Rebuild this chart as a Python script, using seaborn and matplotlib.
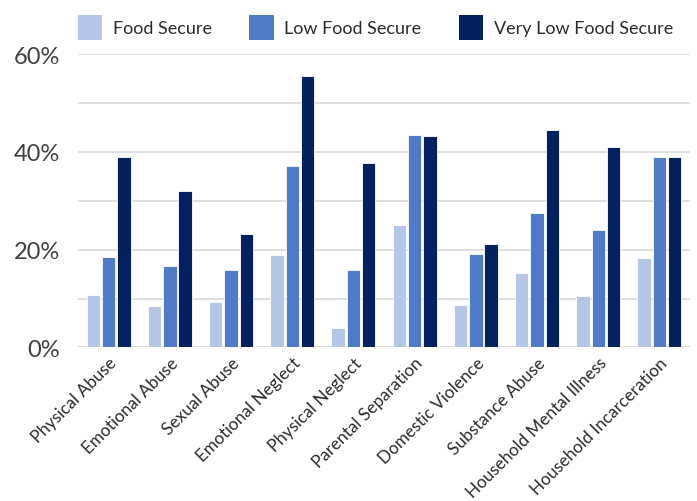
import pandas as pd
import matplotlib
matplotlib.use('Agg')
import matplotlib.pyplot as plt
import seaborn as sns
from matplotlib.ticker import MultipleLocator, FuncFormatter

# Values (percent)
categories = ['Physical Abuse', 'Emotional Abuse', 'Sexual Abuse', 'Emotional Neglect',
              'Physical Neglect', 'Parental Separation', 'Domestic Violence',
              'Substance Abuse', 'Household Mental Illness', 'Household Incarceration']
food_secure = [10.8, 8.4, 9.3, 19.0, 3.9, 25.0, 8.7, 15.2, 10.6, 18.3]
low_food_secure = [18.5, 16.6, 15.9, 37.1, 15.9, 43.4, 19.2, 27.5, 24.0, 38.9]
very_low_food_secure = [38.9, 32.1, 23.2, 55.5, 37.8, 43.2, 21.1, 44.4, 41.0, 38.9]
groups = ['Food Secure', 'Low Food Secure', 'Very Low Food Secure']
colors = ['#B4C7E7', '#4E7AC7', '#03215F']

df = pd.DataFrame({
    'Category': categories * 3,
    'Group': [groups[0]] * 10 + [groups[1]] * 10 + [groups[2]] * 10,
    'Value': food_secure + low_food_secure + very_low_food_secure,
})

sns.set_style('white')
plt.rcParams['font.family'] = ['Lato', 'DejaVu Sans']
text_color = '#2b2b2b'

fig, ax = plt.subplots(figsize=(6.97, 5.02), dpi=100)
fig.subplots_adjust(left=0.112, right=0.99, top=0.89, bottom=0.306)

sns.barplot(data=df, x='Category', y='Value', hue='Group', palette=colors, saturation=1,
            width=0.75, gap=0.12, edgecolor='white', linewidth=0.6, ax=ax, zorder=3)

ax.set_ylim(0, 60)
ax.yaxis.set_major_locator(MultipleLocator(20))
ax.yaxis.set_minor_locator(MultipleLocator(10))
ax.yaxis.set_major_formatter(FuncFormatter(lambda v, p: f'{v:.0f}%'))
ax.grid(axis='y', which='both', color='#d9d9d9', linewidth=1.2, zorder=0)
ax.set_axisbelow(True)
for s in ['top', 'right', 'left', 'bottom']:
    ax.spines[s].set_visible(False)
ax.axhline(0, color='#d9d9d9', linewidth=1.4, zorder=1)

ax.set_xlabel('')
ax.set_ylabel('')
ax.tick_params(axis='y', which='both', length=0, labelsize=17, labelcolor='#404040', pad=13)
ax.tick_params(axis='x', length=0, labelsize=12.3, labelcolor=text_color, pad=5)
plt.setp(ax.get_xticklabels(), rotation=45, ha='right', rotation_mode='anchor')

handles, labels = ax.get_legend_handles_labels()
leg = ax.legend(handles, labels, loc='lower left', bbox_to_anchor=(0.0, 1.05), ncol=3,
                frameon=False, fontsize=13, handlelength=1.35, handleheight=1.75,
                handletextpad=0.6, columnspacing=2.05, borderaxespad=0, borderpad=0)
for t in leg.get_texts():
    t.set_color(text_color)
for h in leg.legend_handles:
    h.set_edgecolor('none')

fig.savefig('out.png', dpi=100)
